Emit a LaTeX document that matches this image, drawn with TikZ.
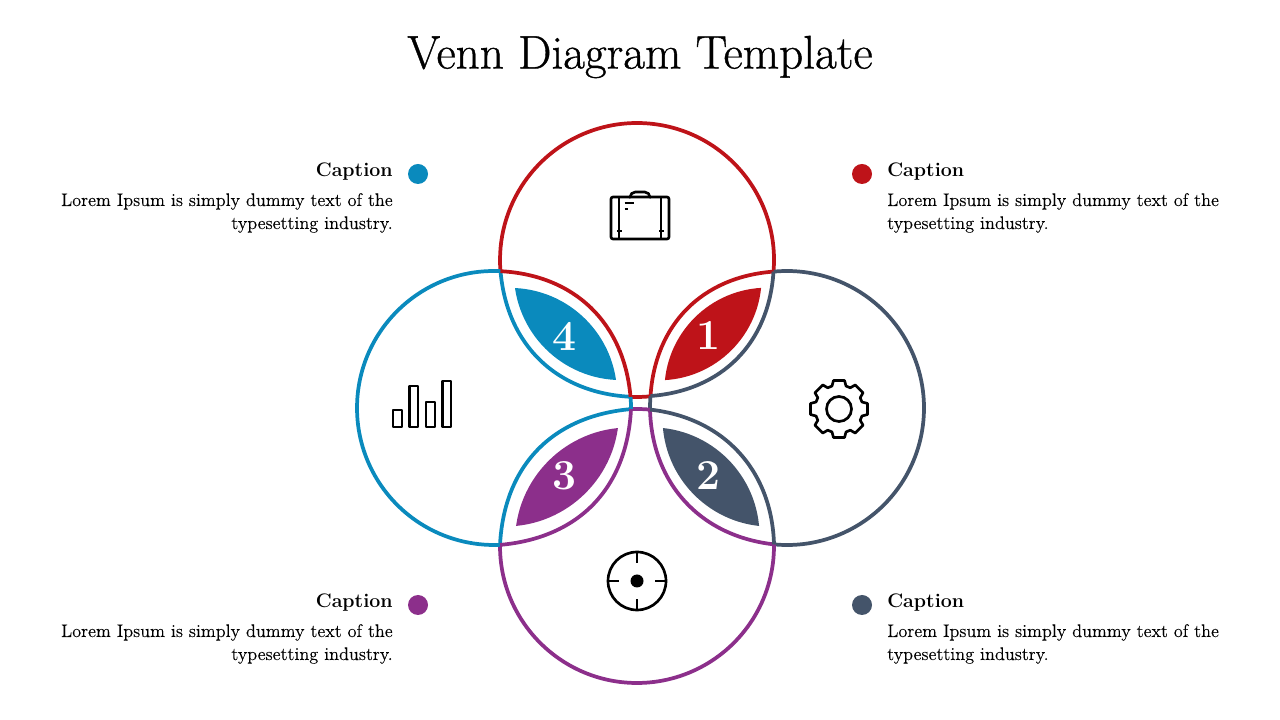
\documentclass[tikz,border=0pt]{standalone}
\usepackage{fontspec}
\newfontfamily\titlefont[FakeBold=0.8]{Latin Modern Roman}
\newfontfamily\bodyfont[FakeBold=0.12]{Latin Modern Roman}
\definecolor{cred}{HTML}{BE1319}
\definecolor{cblue}{HTML}{0A8ABD}
\definecolor{cgray}{HTML}{44546A}
\definecolor{cpurple}{HTML}{8C2F8B}
\newcommand{\ringarc}[4]{\draw[ringline,#1] (#2) ++(#3:137) arc[start angle=#3,end angle=#4,radius=137];}
% leaf edge between two points, bulging to the right of the travel direction
\newcommand{\leafarc}[6]{%
  \pgfmathsetmacro{\leaft}{#6/(0.75*sin(41))}%
  \pgfmathsetmacro{\leafphi}{atan2(#5-#3,#4-#2)}%
  \pgfmathsetmacro{\leafax}{#2+\leaft*cos(\leafphi-41)}%
  \pgfmathsetmacro{\leafay}{#3+\leaft*sin(\leafphi-41)}%
  \pgfmathsetmacro{\leafbx}{#4-\leaft*cos(\leafphi+41)}%
  \pgfmathsetmacro{\leafby}{#5-\leaft*sin(\leafphi+41)}%
  \draw[ringline,#1] (#2,#3) .. controls (\leafax,\leafay) and (\leafbx,\leafby) .. (#4,#5);}
\newcommand{\lensfill}[4]{\begin{scope}\clip (#2) circle[radius=#4];\fill[#1] (#3) circle[radius=#4];\end{scope}}
\tikzset{
  ringline/.style={line width=2.8pt,line cap=butt},
  iconline/.style={line width=2pt,black,line join=round},
  heading/.style={font=\fontsize{35.4}{40}\titlefont,text=black},
  capname/.style={font=\fontsize{14.7}{17}\selectfont\bfseries,text=black,inner sep=0pt},
  capbody/.style={font=\fontsize{13.67}{17.25}\bodyfont,text=black,inner sep=0pt},
  lensnum/.style={font=\fontsize{32}{34}\selectfont\bfseries,text=white,inner sep=0pt},
  capdot/.style={circle,minimum size=15pt,inner sep=0pt}
}
\begin{document}
\begin{tikzpicture}[x=0.75pt,y=0.75pt]
\useasboundingbox (0,0) rectangle (1280,720);
\coordinate (T) at (637,460);
\coordinate (R) at (787,312);
\coordinate (L) at (494,312);
\coordinate (B) at (637,174);
% lens fills
\lensfill{cred}{767.2,329.5}{658.8,442.5}{102.8}
\lensfill{cgray}{770.8,301.7}{651.2,184.3}{108.3}
\lensfill{cpurple}{629.2,178.3}{504.8,307.7}{114.2}
\lensfill{cblue}{621.3,447.3}{509.7,324.7}{107.4}
% rings
\ringarc{cred}{T}{-4.86}{184.69}
\ringarc{cgray}{R}{264.56}{455.65}
\ringarc{cpurple}{B}{179.54}{360.67}
\ringarc{cblue}{L}{87.28}{272.51}
\ringarc{cred}{T}{-92.72}{-84.33}
\ringarc{cgray}{R}{174.98}{180.67}
\ringarc{cpurple}{B}{84.56}{92.51}
\ringarc{cblue}{L}{-0.46}{4.69}
% leaf outlines
\leafarc{cred}{773.5}{448.4}{650.5}{324}{35.3}
\leafarc{cgray}{650.5}{324}{773.5}{448.4}{35.3}
\leafarc{cblue}{500.5}{448.8}{630.5}{323.2}{36.5}
\leafarc{cred}{630.5}{323.2}{500.5}{448.8}{36.5}
\leafarc{cblue}{631}{310.9}{500}{175.1}{39}
\leafarc{cpurple}{500}{175.1}{631}{310.9}{39}
\leafarc{cpurple}{650}{310.4}{774}{175.6}{36.5}
\leafarc{cgray}{774}{175.6}{650}{310.4}{36.5}
% numbers
\node[lensnum] (n1) at (708,384) {1};
\node[lensnum] (n2) at (708,244) {2};
\node[lensnum] (n3) at (565,244) {3};
\node[lensnum] (n4) at (565,384) {4};
% title
\node[heading] (title) at (640,663) {Venn Diagram Template};
% captions
\node[capdot,fill=cblue] (d4) at (418,546) {};
\node[capdot,fill=cred] (d1) at (862,546) {};
\node[capdot,fill=cpurple] (d3) at (418,115) {};
\node[capdot,fill=cgray] (d2) at (862,115) {};
\node[capname,anchor=base east] (c4) at (393,543) {Caption};
\node[capname,anchor=base west] (c1) at (887,543) {Caption};
\node[capname,anchor=base east] (c3) at (393,112) {Caption};
\node[capname,anchor=base west] (c2) at (887,112) {Caption};
\node[capbody,anchor=base east,align=right] (b4) at (393,491) {Lorem Ipsum is simply dummy text of the\\typesetting industry.};
\node[capbody,anchor=base west,align=left] (b1) at (887,491) {Lorem Ipsum is simply dummy text of the\\typesetting industry.};
\node[capbody,anchor=base east,align=right] (b3) at (393,60) {Lorem Ipsum is simply dummy text of the\\typesetting industry.};
\node[capbody,anchor=base west,align=left] (b2) at (887,60) {Lorem Ipsum is simply dummy text of the\\typesetting industry.};
% briefcase
\draw[iconline,rounded corners=1.5pt] (611,523) rectangle (669,481);
\draw[iconline,rounded corners=4pt] (630,523) -- (630,528) -- (650,528) -- (650,523);
\draw[iconline] (619,523) -- (619,481);
\draw[iconline] (661,523) -- (661,481);
\draw[iconline] (624.5,517) -- (634,517);
\draw[iconline] (624.5,511) -- (628,511);
\fill (616.5,490) rectangle (621.5,488);
\fill (658.5,490) rectangle (663.5,488);
% gear
\begin{scope}[shift={(839,311)}]
\draw[iconline] (-17:24)
  foreach \a in {0,45,...,315} { -- (\a-17:24) -- (\a-11:29) -- (\a+11:29) -- (\a+17:24) } -- cycle;
\draw[iconline] (0,0) circle[radius=12.5];
\end{scope}
% bars
\draw[iconline] (393,293) rectangle (402,310);
\draw[iconline] (409.5,293) rectangle (418,334);
\draw[iconline] (426,293) rectangle (435,318);
\draw[iconline] (442.5,293) rectangle (451,339);
% target
\draw[iconline] (637,139) circle[radius=29];
\fill (637,139) circle[radius=6.5];
\draw[iconline] (637,168) -- (637,157);
\draw[iconline] (637,110) -- (637,121);
\draw[iconline] (608,139) -- (619,139);
\draw[iconline] (666,139) -- (655,139);
\end{tikzpicture}
\end{document}
